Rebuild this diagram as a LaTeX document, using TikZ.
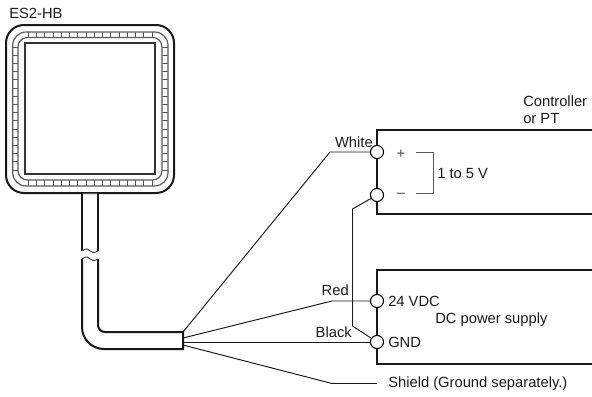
\documentclass[tikz,border=0pt]{standalone}
\usepackage{fontspec}
\setmainfont{Liberation Sans}
\tikzset{
 thick line/.style={line width=1.5pt,draw=black!90},
 thin line/.style={line width=0.72pt,draw=black!90},
 gray line/.style={line width=0.65pt,draw=black!65},
 terminal/.style={circle,draw=black,fill=white,line width=0.8pt,minimum size=9.8pt,inner sep=0pt},
 lbl/.style={inner sep=0pt,font=\fontsize{11.05pt}{13pt}\selectfont,text=black!90},
 lblL/.style={lbl,anchor=west},
 lblR/.style={lbl,anchor=east}
}
\begin{document}
\begin{tikzpicture}[x=0.75pt,y=-0.75pt]
\useasboundingbox (0,0) rectangle (592,396);
% sensor body
\draw[thick line,rounded corners=13.5pt] (6,25) rectangle (174,193);
\draw[gray line,line width=0.9pt,rounded corners=10pt] (12.7,32) rectangle (168,186);
\draw[gray line,line width=0.9pt,rounded corners=7pt] (18,37.5) rectangle (162,180);
\draw[line width=0.9pt,draw=black!80] (25,43) rectangle (155,174);
% ticks in the bands
\foreach \i in {0,...,15}{
 \pgfmathsetmacro{\t}{28.3+\i*8.25}
 \draw[gray line] (\t,32) -- (\t,37.5);
 \draw[gray line] (\t,180) -- (\t,186);
 \pgfmathsetmacro{\s}{47+\i*8.2}
 \draw[gray line] (12.7,\s) -- (18,\s);
 \draw[gray line] (162,\s) -- (168,\s);
}
\node[lblL] (title) at (9,13) {ES2-HB};
% cable
\draw[gray line,line width=0.4pt] (82,193) -- (98,193);
\draw[thick line] (82,193) -- (82,251);
\draw[thick line] (98,193) -- (98,251);
\draw[line width=0.7pt,draw=black!80] (82,251) .. controls (87,247) and (89,250) .. (90,251) .. controls (92,253) and (94,253) .. (98,251);
\draw[line width=0.7pt,draw=black!80] (82,259) .. controls (87,255) and (89,258) .. (90,259) .. controls (92,261) and (94,261) .. (98,259);
\draw[thick line] (82,259) -- (82,327) arc[start angle=180,end angle=90,radius=22] -- (183,349) -- (183,332) -- (105,332) arc[start angle=90,end angle=180,radius=7] -- (98,259);
\coordinate (c1) at (183,332);
\coordinate (c2) at (183,338);
\coordinate (c3) at (183,342);
\coordinate (c4) at (183,345);
% boxes
\draw[thick line] (592,130) -- (377,130) -- (377,214) -- (592,214);
\draw[thick line] (592,270) -- (377,270) -- (377,364) -- (592,364);
% terminals
\node[terminal] (tw) at (377,152) {};
\node[terminal] (tm) at (377,195) {};
\node[terminal] (tr) at (377,301) {};
\node[terminal] (tg) at (377,342) {};
\coordinate (jw) at (330,152);
\coordinate (jm) at (352.5,209);
\coordinate (jg) at (352.5,326);
\coordinate (jr) at (332,301);
\coordinate (js) at (332,383.5);
\coordinate (send) at (377,383.5);
% wires
\draw[thin line] (c1) -- (jw) -- (tw);
\draw[thin line] (c2) -- (jr) -- (tr);
\draw[thin line] (c3) -- (tg);
\draw[thin line] (c4) -- (js) -- (send);
\draw[thin line] (tm) -- (jm) -- (jg) -- (tg);
% labels
\node[lblR] (white) at (373,142) {White};
\node[lblR] (red) at (349,290) {Red};
\node[lblR] (black) at (352,332.5) {Black};
\node[lblL] (ctrl) at (523,101) {Controller};
\node[lblL] (orpt) at (523,119) {or PT};
\node[lbl,text=black!70] (plus) at (401,154) {+};
\node[lbl,text=black!70] (minus) at (401,195) {–};
\coordinate (b1) at (416,152);
\coordinate (b2) at (433,152);
\coordinate (b3) at (433,193);
\coordinate (b4) at (416,193);
\draw[gray line] (b1) -- (b2) -- (b3) -- (b4);
\node[lblL] (range) at (437,174) {1 to 5 V};
\node[lblL] (v24) at (388,301) {24 VDC};
\node[lblL] (gnd) at (388,342) {GND};
\node[lblL] (dc) at (435,319.5) {DC power supply};
\node[lblL] (shield) at (388,384) {Shield (Ground separately.)};
\end{tikzpicture}
\end{document}
